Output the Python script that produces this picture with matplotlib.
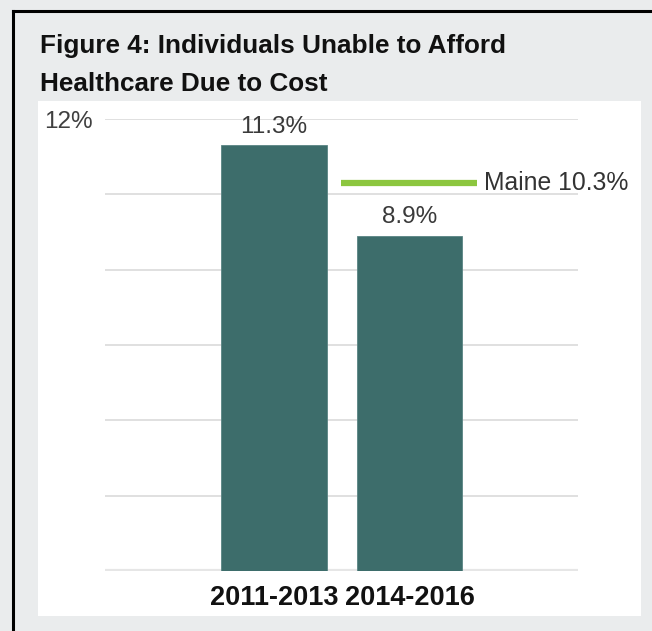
import numpy as np
import matplotlib
matplotlib.use('Agg')
import matplotlib.pyplot as plt
from matplotlib.patches import Rectangle
from matplotlib.lines import Line2D

plt.rcParams['font.family'] = ['Liberation Sans', 'DejaVu Sans']

periods = ['2011-2013', '2014-2016']
values = [11.3, 8.9]
maine = 10.3
yticks = [0, 2, 4, 6, 8, 10, 12]

W, H = 652, 631
fig = plt.figure(figsize=(W/100, H/100), dpi=100)
fig.patch.set_facecolor('#eaeced')

# white panel + frame lines
fig.patches.append(Rectangle((38/W, 1-616/H), (641-38)/W, (616-101)/H,
                             transform=fig.transFigure, facecolor='white',
                             edgecolor='none', zorder=-5))
fig.lines.append(Line2D([13/W, 13/W], [0, 1-11/H], transform=fig.transFigure,
                        color='black', lw=2.2))
fig.lines.append(Line2D([13/W, 1], [1-11/H, 1-11/H], transform=fig.transFigure,
                        color='black', lw=2.2))

fig.text(40/W, 1-46/H, 'Figure 4: Individuals Unable to Afford',
         fontsize=18.8, fontweight='bold', color='#111111', va='center')
fig.text(40/W, 1-84/H, 'Healthcare Due to Cost',
         fontsize=18.8, fontweight='bold', color='#111111', va='center')

ax = fig.add_axes([105/W, 60/H, 473/W, 452/H])
ax.set_facecolor('none')
x = np.arange(len(periods))
ax.set_xlim(-1.247, 2.244)
ax.set_ylim(0, 12)

for t in yticks[1:]:
    ax.axhline(t, color='#dadada', lw=1.2, zorder=0)
ax.axhline(0, color='#e6e6e6', lw=3, zorder=0)

ax.bar(x, values, width=0.78, color='#3d6d6b', edgecolor='#5a8584',
       linewidth=0.6, zorder=2)
for xi, v in zip(x, values):
    ax.text(xi, v + 0.5, f'{v}%', ha='center', va='center',
            fontsize=17.5, color='#3a3a3a')

ax.plot([0.494, 1.498], [maine, maine], color='#8cc63f', lw=4.5, zorder=3,
        solid_capstyle='butt')
ax.text(1.55, maine, f'Maine {maine}%', ha='left', va='center',
        fontsize=17.8, color='#333333')

ax.set_yticks([12])
ax.set_yticklabels(['12%'], fontsize=17.5, color='#404040')
ax.set_xticks(x)
ax.set_xticklabels(periods, fontsize=19.5, fontweight='bold', color='#111111')
ax.tick_params(axis='y', length=0, pad=9)
ax.tick_params(axis='x', length=0, pad=10)
for s in ax.spines.values():
    s.set_visible(False)

fig.savefig('out.png', dpi=100, facecolor=fig.get_facecolor())
